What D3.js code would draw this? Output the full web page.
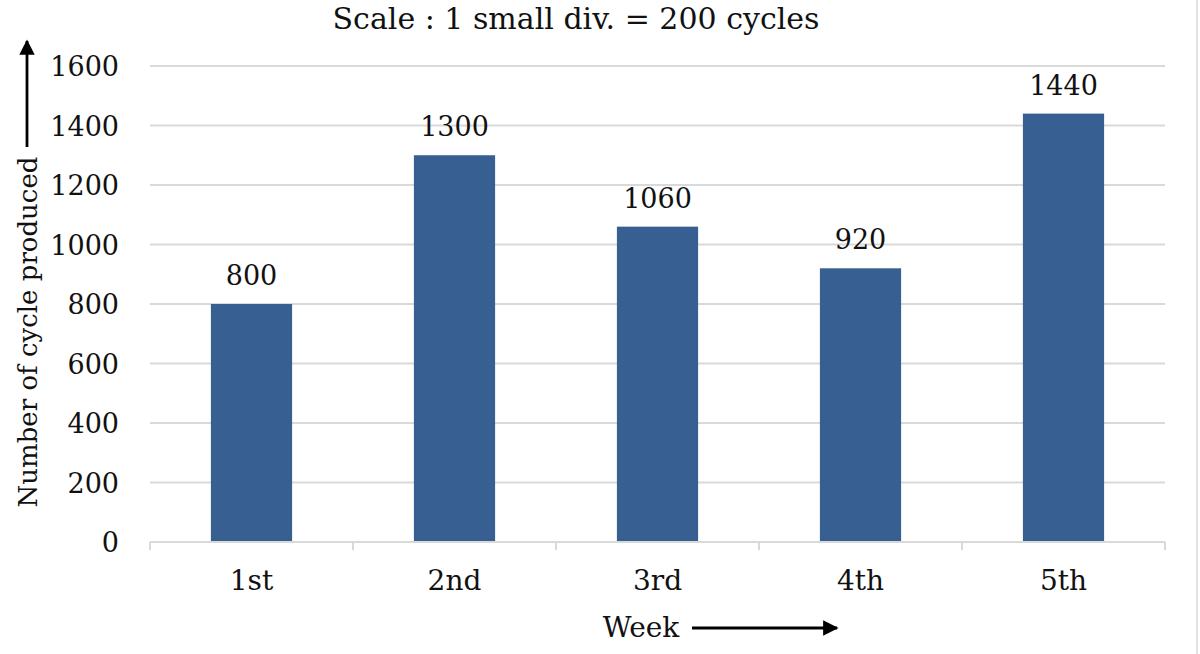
<!DOCTYPE html>
<html><head><meta charset="utf-8">
<script src="https://cdn.jsdelivr.net/npm/d3@7"></script>
<style>body{margin:0;background:#fff}svg{display:block}text{font-family:"DejaVu Serif",serif;fill:#111}</style>
</head><body>
<svg id="c" width="1200" height="654"></svg>
<script>
const categories = ["1st","2nd","3rd","4th","5th"];
const values = [800,1300,1060,920,1440];
const yTicks = [0,200,400,600,800,1000,1200,1400,1600];
const title = "Scale : 1 small div. = 200 cycles";
const yLabel = "Number of cycle produced";
const xLabel = "Week";

const svg = d3.select("#c");
const L=150,R=1165,T=66,B=542;
const FS=27;
const FF="DejaVu Serif";
const x = d3.scaleBand().domain(categories).range([L,R]).paddingInner(0.6).paddingOuter(0.3);
const y = d3.scaleLinear().domain([0,1600]).range([B,T]);

// gridlines
svg.append("g").selectAll("line").data(yTicks.slice(1)).join("line")
  .attr("x1",L).attr("x2",R).attr("y1",d=>y(d)).attr("y2",d=>y(d))
  .attr("stroke","#d9d9d9").attr("stroke-width",2);

// y axis labels
const ya = svg.append("g").attr("transform",`translate(${L},0)`)
  .call(d3.axisLeft(y).tickValues(yTicks).tickFormat(d3.format("d")).tickSize(0).tickPadding(31));
ya.attr("font-size",FS).attr("font-family",FF);
ya.select(".domain").remove();
ya.selectAll("text").attr("fill","#111").attr("dy","0.36em");

// bars
svg.append("g").selectAll("rect").data(values).join("rect")
  .attr("x",(d,i)=>x(categories[i])).attr("width",x.bandwidth())
  .attr("y",d=>y(d)).attr("height",d=>B-y(d)).attr("fill","#375f91");

// data labels
svg.append("g").selectAll("text").data(values).join("text")
  .attr("x",(d,i)=>x(categories[i])+x.bandwidth()/2).attr("y",d=>y(d)-19)
  .attr("text-anchor","middle").attr("font-size",FS).text(d=>d);

// x axis
const step = x.step();
const xa = svg.append("g").attr("transform",`translate(0,${B})`);
xa.append("line").attr("x1",L).attr("x2",R).attr("stroke","#d9d9d9").attr("stroke-width",2);
const bounds = d3.range(categories.length+1).map(i=>L+i*step);
xa.selectAll("line.t").data(bounds).join("line").attr("class","t")
  .attr("x1",d=>d).attr("x2",d=>d).attr("y1",0).attr("y2",8).attr("stroke","#d9d9d9").attr("stroke-width",2);
xa.selectAll("text").data(categories).join("text")
  .attr("x",d=>x(d)+x.bandwidth()/2).attr("y",48).attr("text-anchor","middle").attr("font-size",28).text(d=>d);

// title
svg.append("text").attr("x",576).attr("y",29).attr("text-anchor","middle").attr("font-size",30).text(title);

// arrows
const defs = svg.append("defs");
defs.append("marker").attr("id","ah").attr("viewBox","0 0 10 10").attr("refX",9).attr("refY",5)
  .attr("markerWidth",5.5).attr("markerHeight",5.5).attr("markerUnits","strokeWidth").attr("orient","auto")
  .append("path").attr("d","M0,0L10,5L0,10z").attr("fill","#000");

// y label
svg.append("text").attr("transform","translate(37,332) rotate(-90)").attr("text-anchor","middle")
  .attr("font-size",26).text(yLabel);
svg.append("line").attr("x1",27).attr("x2",27).attr("y1",147).attr("y2",41)
  .attr("stroke","#000").attr("stroke-width",2.8).attr("marker-end","url(#ah)");

// x label
svg.append("text").attr("x",641).attr("y",637).attr("text-anchor","middle").attr("font-size",28).text(xLabel);
svg.append("line").attr("x1",692).attr("x2",837).attr("y1",628).attr("y2",628)
  .attr("stroke","#000").attr("stroke-width",2.8).attr("marker-end","url(#ah)");

// right border
svg.append("line").attr("x1",1197).attr("x2",1197).attr("y1",0).attr("y2",654).attr("stroke","#d9d9d9").attr("stroke-width",1.5);
</script>
</body></html>
